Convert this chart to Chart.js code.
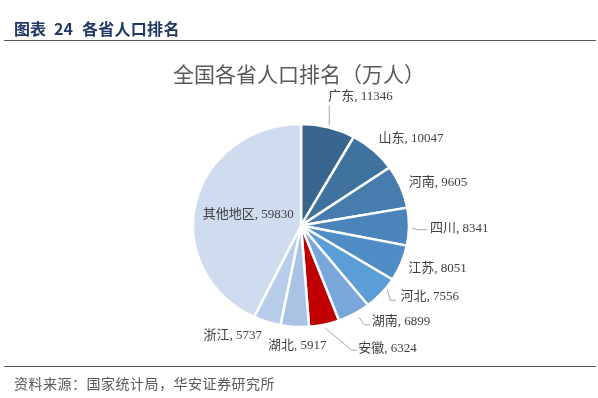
<!DOCTYPE html>
<html>
<head>
<meta charset="utf-8">
<script src="https://cdn.jsdelivr.net/npm/chart.js@4.4.0/dist/chart.umd.min.js"></script>
<style>
html,body{margin:0;padding:0;background:#fff;}
#wrap{position:relative;width:598px;height:398px;overflow:hidden;background:#fff;}
#cbox{position:absolute;left:0;top:0;width:598px;height:398px;}
.hdr{position:absolute;left:14px;top:17px;font:bold 16px "Noto Sans CJK SC";color:#1f3864;line-height:22px;white-space:nowrap;}
.hdr span{display:inline-block;}
.ttl{position:absolute;left:0;width:598px;top:59px;text-align:center;font:21px "Noto Sans CJK SC";color:#595959;line-height:28px;white-space:nowrap;}
.ln{position:absolute;left:4px;width:592px;height:0;border-top:1.3px solid #555;}
.ftr{position:absolute;left:14px;top:373px;font:14px "Noto Sans CJK SC";color:#595959;line-height:20px;white-space:nowrap;letter-spacing:0.5px;}
</style>
</head>
<body>
<div id="wrap">
  <div id="cbox"><canvas id="c"></canvas></div>
  <div class="hdr"><span>图表</span><span style="margin-left:8px">24</span><span style="margin-left:9px;letter-spacing:0.3px">各省人口排名</span></div>
  <div class="ln" style="top:40px"></div>
  <div class="ttl">全国各省人口排名（万人）</div>
  <div class="ln" style="top:366px"></div>
  <div class="ftr">资料来源：国家统计局，华安证券研究所</div>
</div>
<script>
const provinces = ['广东','山东','河南','四川','江苏','河北','湖南','安徽','湖北','浙江','其他地区'];
const population = [11346, 10047, 9605, 8341, 8051, 7556, 6899, 6324, 5917, 5737, 59830];
const sliceColors = ['#38668f','#4072a0','#467cae','#4a84bb','#508cc6','#5b9dd6','#7aa7d9','#c00000','#a9c3e4','#b8cdea','#cfdcf0'];

// label placement relative to the slice's outer edge point (styling only)
const labelLayout = [
  {r:1, dx:0,   dy:-31, align:'left',  leader:[[1,-2],[1,-22]]},
  {r:1, dx:5,   dy:-12, align:'left'},
  {r:1, dx:8,   dy:-4,  align:'left'},
  {r:1, dx:21,  dy:1.5, align:'left',  leader:[[3,1],[8,3],[18,3]]},
  {r:1, dx:7,   dy:5.5, align:'left'},
  {r:1, dx:19,  dy:3,   align:'left',  leader:[[6,-3],[9,7],[15,7]]},
  {r:1, dx:17.5,dy:8,   align:'left',  leader:[[5,3.5],[10,11],[16,11]]},
  {r:1, dx:34,  dy:23.5,align:'left',  leader:[[1,3.5],[27.5,25.5],[32.5,25.5]]},
  {r:1, dx:2.5, dy:18.5,align:'center'},
  {r:1, dx:-5,  dy:14,  align:'right'},
  {r:0.5, dx:0, dy:0,   align:'center'}
];
const squash = 0.94;

const pieLabels = {
  id: 'pieLabels',
  beforeDatasetsDraw(chart) {
    const ctx = chart.ctx;
    const a = chart.getDatasetMeta(0).data[0];
    ctx.save();
    ctx.translate(a.x, a.y);
    ctx.scale(1, squash);
    ctx.translate(-a.x, -a.y);
  },
  afterDatasetsDraw(chart) {
    const ctx = chart.ctx;
    ctx.restore();
    const meta = chart.getDatasetMeta(0);
    ctx.save();
    ctx.font = '13px "Liberation Serif", "Noto Sans CJK SC"';
    ctx.fillStyle = '#404040';
    ctx.textBaseline = 'middle';
    meta.data.forEach((arc, i) => {
      const p = arc.getProps(['x','y','startAngle','endAngle','outerRadius'], true);
      const mid = (p.startAngle + p.endAngle) / 2;
      const L = labelLayout[i];
      const r = p.outerRadius * L.r;
      const ex = p.x + Math.cos(mid) * r;
      const ey = p.y + Math.sin(mid) * r * squash;
      if (L.leader) {
        ctx.beginPath();
        ctx.strokeStyle = '#a6a6a6';
        ctx.lineWidth = 1;
        L.leader.forEach((q, k) => {
          const px = ex + q[0], py = ey + q[1];
          if (k === 0) ctx.moveTo(px, py); else ctx.lineTo(px, py);
        });
        ctx.stroke();
      }
      ctx.textAlign = L.align;
      ctx.fillText(provinces[i] + ', ' + population[i], ex + L.dx, ey + L.dy);
    });
    ctx.restore();
  }
};

new Chart(document.getElementById('c'), {
  type: 'pie',
  data: {
    labels: provinces,
    datasets: [{
      data: population,
      backgroundColor: sliceColors,
      borderColor: '#ffffff',
      borderWidth: 2.5
    }]
  },
  options: {
    responsive: true,
    maintainAspectRatio: false,
    animation: false,
    radius: 108,
    layout: {padding: {left: 191, right: 187, top: 115.5, bottom: 62.5}},
    plugins: {legend: {display: false}, tooltip: {enabled: false}, title: {display: false}}
  },
  plugins: [pieLabels]
});
</script>
</body>
</html>
